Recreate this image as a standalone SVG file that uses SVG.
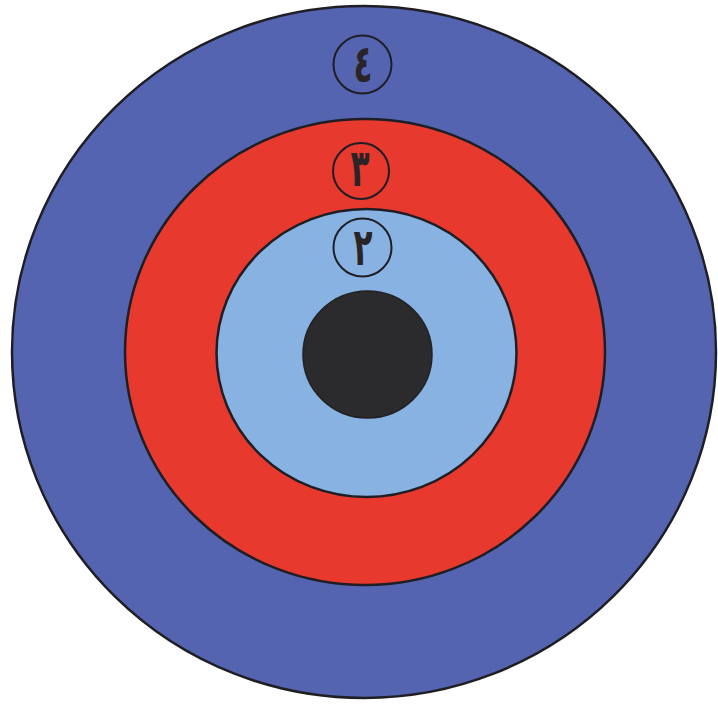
<svg xmlns="http://www.w3.org/2000/svg" width="718" height="707" viewBox="0 0 718 707">
<style>
.ring{stroke:#1e1e24;stroke-width:2.5}
.lbl{fill:none;stroke:#1e1e24;stroke-width:2}
.num{font-family:"DejaVu Sans","Noto Sans",sans-serif;font-size:52px;font-weight:bold;fill:#2a2426;text-anchor:middle}
</style>
<rect width="718" height="707" fill="#ffffff"/>
<g id="ring4"><ellipse class="ring" cx="364" cy="352" rx="352" ry="346" fill="#5464b0"/></g>
<g id="ring3"><ellipse class="ring" cx="365" cy="352" rx="240" ry="233" fill="#e8392f"/></g>
<g id="ring2"><ellipse class="ring" cx="366.5" cy="353" rx="150" ry="144" fill="#88b2e2"/></g>
<g id="center"><ellipse cx="367.5" cy="354.5" rx="64.5" ry="63.5" fill="#2b2a2c" stroke="#222" stroke-width="1.5"/></g>
<g id="label4"><circle class="lbl" cx="362.5" cy="64.5" r="29"/><text class="num" transform="translate(363,82) scale(0.6,1)">٤</text></g>
<g id="label3"><circle class="lbl" cx="361" cy="171" r="28"/><text class="num" transform="translate(360,186) scale(0.6,1)">٣</text></g>
<g id="label2"><circle class="lbl" cx="362.5" cy="247.5" r="29"/><text class="num" transform="translate(363,265) scale(0.6,1)">٢</text></g>
</svg>
